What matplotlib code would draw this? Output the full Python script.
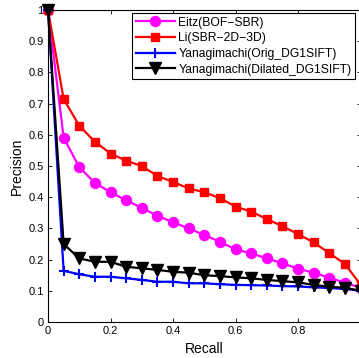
import matplotlib
matplotlib.use("Agg")
import matplotlib.pyplot as plt
import numpy as np

plt.rcParams['font.family'] = ['Liberation Sans', 'DejaVu Sans']

recall = np.arange(21) * 0.05

eitz = [1.0, 0.591, 0.496, 0.446, 0.416, 0.390, 0.366, 0.340, 0.320, 0.300, 0.279,
        0.257, 0.233, 0.220, 0.204, 0.188, 0.171, 0.158, 0.142, 0.126, 0.11]
li = [1.0, 0.715, 0.629, 0.578, 0.540, 0.517, 0.500, 0.468, 0.449, 0.428, 0.416,
      0.397, 0.370, 0.354, 0.330, 0.307, 0.282, 0.255, 0.221, 0.186, 0.12]
orig = [1.0, 0.164, 0.153, 0.145, 0.145, 0.140, 0.135, 0.129, 0.129, 0.124, 0.124,
        0.121, 0.119, 0.118, 0.117, 0.115, 0.114, 0.111, 0.109, 0.106, 0.10]
dilated = [1.0, 0.250, 0.204, 0.193, 0.193, 0.177, 0.172, 0.167, 0.161, 0.158, 0.150,
           0.147, 0.143, 0.140, 0.135, 0.131, 0.127, 0.119, 0.113, 0.110, 0.10]

labels = ["Eitz(BOF\u2212SBR)", "Li(SBR\u22122D\u22123D)",
          "Yanagimachi(Orig_DG1SIFT)", "Yanagimachi(Dilated_DG1SIFT)"]

fig = plt.figure(figsize=(3.59, 3.58), dpi=100)
ax = fig.add_axes([48 / 359, 36 / 358, 312.5 / 359, 312 / 358])

ax.plot(recall, eitz, color='#ff00ff', lw=1.6, marker='o', ms=7.2, clip_on=False, label=labels[0])
ax.plot(recall, li, color='#ff0000', lw=1.6, marker='s', ms=6, clip_on=False, label=labels[1])
ax.plot(recall, orig, color='#0000ff', lw=1.6, marker='+', ms=7, mew=1.5, clip_on=False, label=labels[2])
ax.plot(recall, dilated, color='black', lw=1.6, marker='v', ms=8, clip_on=False, label=labels[3])

ax.set_xlim(0, 1)
ax.set_ylim(0, 1)
# the "1" label on x sits beyond the cropped edge, so it is left blank
ax.set_xticks([0, 0.2, 0.4, 0.6, 0.8, 1])
ax.set_xticklabels(['0', '0.2', '0.4', '0.6', '0.8', ''])
ax.set_yticks(np.arange(11) / 10)
ax.set_yticklabels(['0', '0.1', '0.2', '0.3', '0.4', '0.5', '0.6', '0.7', '0.8', '0.9', '1'])
ax.tick_params(direction='in', top=True, right=True, labelsize=8, length=3, width=0.6, pad=3)
for s in ax.spines.values():
    s.set_linewidth(0.8)

ax.set_xlabel('Recall', fontsize=10, labelpad=4)
ax.set_ylabel('Precision', fontsize=10, labelpad=3)

leg = ax.legend(loc='upper right', bbox_to_anchor=(355 / 359, 1 - 13 / 358),
                bbox_transform=fig.transFigure, borderaxespad=0, fontsize=8.7,
                fancybox=False, edgecolor='black', framealpha=1,
                handlelength=3.2, labelspacing=0.3, handletextpad=0.3,
                borderpad=0.3)
leg.get_frame().set_linewidth(0.8)

fig.savefig('out.png', dpi=100)
